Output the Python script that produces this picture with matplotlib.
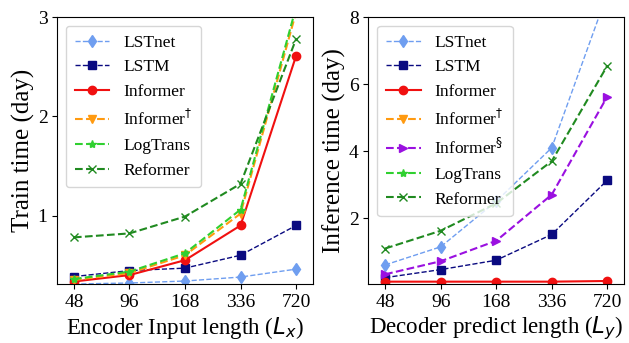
import matplotlib
matplotlib.use('Agg')
import matplotlib.pyplot as plt
import numpy as np

plt.rcParams['font.family'] = ['Liberation Serif', 'DejaVu Serif']
plt.rcParams['mathtext.fontset'] = 'dejavusans'

lengths = ['48', '96', '168', '336', '720']

# train time (day) vs encoder input length
train_lstnet = [0.31, 0.32, 0.34, 0.38, 0.46]
train_lstm = [0.385, 0.445, 0.47, 0.60, 0.90]
train_informer = [0.335, 0.40, 0.55, 0.90, 2.61]
train_informer_dag = [0.35, 0.42, 0.60, 1.02, 3.05]
train_logtrans = [0.36, 0.435, 0.62, 1.06, 3.10]
train_reformer = [0.78, 0.82, 0.99, 1.32, 2.78]

# inference time (day) vs decoder predict length
inf_lstnet = [0.60, 1.14, 2.50, 4.10, 8.70]
inf_lstm = [0.22, 0.46, 0.74, 1.51, 3.13]
inf_informer = [0.10, 0.10, 0.10, 0.10, 0.12]
inf_informer_dag = [np.nan] * 5
inf_informer_sec = [0.32, 0.71, 1.32, 2.70, 5.63]
inf_logtrans = [np.nan] * 5
inf_reformer = [1.09, 1.62, 2.44, 3.70, 6.55]

styles = {
    'LSTnet': dict(color='#6f9ef0', marker='d', ls='--', lw=1.0, ms=6),
    'LSTM': dict(color='#0a0a80', marker='s', ls='--', lw=1.0, ms=6),
    'Informer': dict(color='#f01010', marker='o', ls='-', lw=1.5, ms=6),
    r'Informer$^{\dagger}$': dict(color='#ff9a10', marker='v', ls='--', lw=1.5, ms=6),
    r'Informer$^{\S}$': dict(color='#9a10e0', marker='>', ls='--', lw=1.5, ms=6),
    'LogTrans': dict(color='#30d030', marker='*', ls='--', lw=1.5, ms=6),
    'Reformer': dict(color='#208a20', marker='x', ls='--', lw=1.5, ms=6),
}

x = np.arange(len(lengths))

fig, (ax1, ax2) = plt.subplots(1, 2, figsize=(6.29, 3.43), dpi=100)
fig.subplots_adjust(left=0.091, right=0.992, top=0.95, bottom=0.172, wspace=0.218)

left_series = [('LSTnet', train_lstnet), ('LSTM', train_lstm), ('Informer', train_informer),
               (r'Informer$^{\dagger}$', train_informer_dag), ('LogTrans', train_logtrans),
               ('Reformer', train_reformer)]
right_series = [('LSTnet', inf_lstnet), ('LSTM', inf_lstm), ('Informer', inf_informer),
                (r'Informer$^{\dagger}$', inf_informer_dag), (r'Informer$^{\S}$', inf_informer_sec),
                ('LogTrans', inf_logtrans), ('Reformer', inf_reformer)]

for name, vals in left_series:
    ax1.plot(x, vals, label=name, **styles[name])
for name, vals in right_series:
    ax2.plot(x, vals, label=name, **styles[name])

ax1.set_ylim(0.31, 3)
ax1.set_yticks([1, 2, 3])
ax1.set_ylabel('Train time (day)', fontsize=18, labelpad=2)
ax1.set_xlabel(r'Encoder Input length ($L_x$)', fontsize=16.5, labelpad=3)

ax2.set_ylim(0.03, 8)
ax2.set_yticks([2, 4, 6, 8])
ax2.set_ylabel('Inference time (day)', fontsize=18, labelpad=2)
ax2.set_xlabel(r'Decoder predict length ($L_y$)', fontsize=16.5, labelpad=3)

for ax in (ax1, ax2):
    ax.set_xlim(-0.3, 4.3)
    ax.set_xticks(x)
    ax.set_xticklabels(lengths)
    ax.tick_params(labelsize=14)
    ax.legend(loc='upper left', fontsize=12.5, frameon=True, fancybox=True,
              handlelength=2.0, labelspacing=0.5, borderpad=0.5, handletextpad=0.8)

fig.savefig('out.png', dpi=100)
